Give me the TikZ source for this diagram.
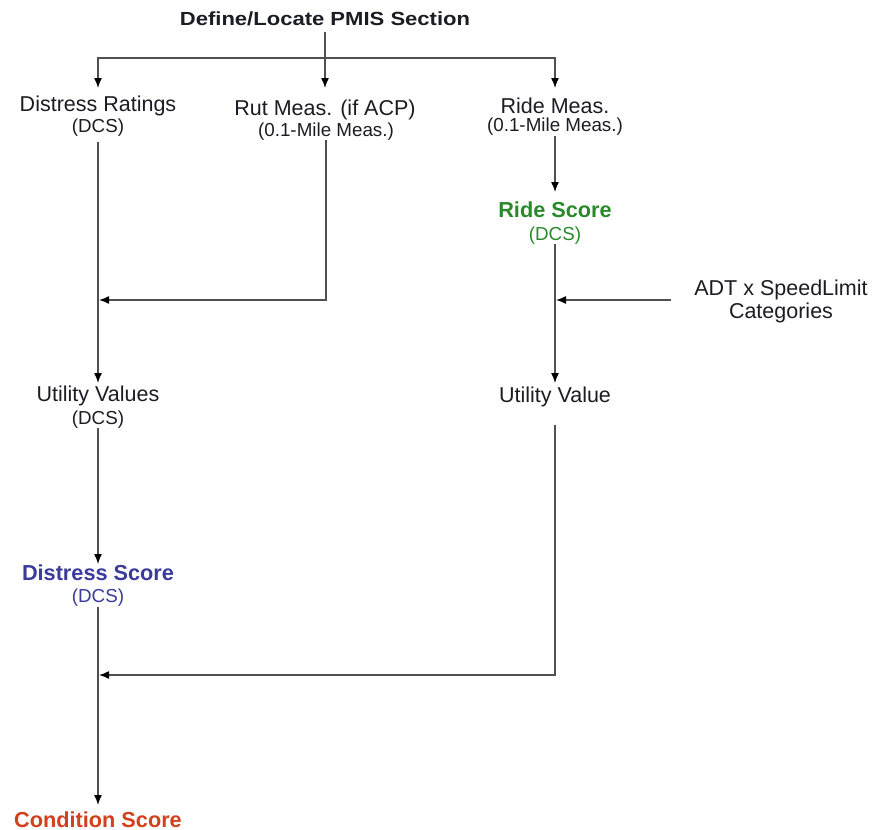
\documentclass[tikz,border=0pt]{standalone}
\usepackage{fontspec}
\setmainfont{Liberation Sans}
\newfontfamily\titlefont[FakeStretch=1.16]{Liberation Sans}
\usetikzlibrary{arrows.meta}
\definecolor{txt}{HTML}{1C1C24}
\definecolor{lncol}{HTML}{505050}
\definecolor{ridegreen}{HTML}{2A8A2A}
\definecolor{distblue}{HTML}{3B3B9B}
\definecolor{condred}{HTML}{D2401E}
\tikzset{
  lbl/.style={anchor=base, inner sep=0pt, text=txt, font=\fontsize{21.5}{24}\selectfont},
  sublbl/.style={anchor=base, inner sep=0pt, text=txt, font=\fontsize{18.8}{22}\selectfont},
  boldlbl/.style={anchor=base, inner sep=0pt, font=\fontsize{21.7}{24}\selectfont\bfseries},
  ln/.style={draw=lncol, line width=1.4pt},
  arr/.style={ln, -{Latex[length=10pt,width=8pt,color=black]}}
}
\begin{document}
\begin{tikzpicture}[x=1pt,y=-1pt]
\useasboundingbox[fill=white] (0,0) rectangle (873,830);
% nodes
\node[anchor=base, inner sep=0pt, text=txt, font=\fontsize{19}{22}\titlefont\bfseries] (title) at (325,25) {Define/Locate PMIS Section};
\node[lbl] (dr) at (98,111) {Distress Ratings};
\node[sublbl] (drs) at (98,132) {(DCS)};
\node[lbl] (rut) at (325,115) {Rut Meas. (if ACP)};
\node[sublbl] (ruts) at (326,136) {(0.1-Mile Meas.)};
\node[lbl] (ride) at (555,113) {Ride Meas.};
\node[sublbl] (rides) at (555,131) {(0.1-Mile Meas.)};
\node[boldlbl, text=ridegreen] (rs) at (555,217) {Ride Score};
\node[sublbl, text=ridegreen] (rss) at (555,240) {(DCS)};
\node[lbl] (adt) at (781,295) {ADT x SpeedLimit};
\node[lbl] (cat) at (781,318) {Categories};
\node[lbl] (uv) at (98,401) {Utility Values};
\node[sublbl] (uvs) at (98,424) {(DCS)};
\node[lbl] (uv2) at (555,402) {Utility Value};
\node[boldlbl, text=distblue] (ds) at (98,580) {Distress Score};
\node[sublbl, text=distblue] (dss) at (98,602) {(DCS)};
\node[boldlbl, text=condred] (cs) at (98,827) {Condition Score};
% junctions
\coordinate (top) at (325,58);
\coordinate (j1) at (99,300);
\coordinate (j2) at (556,300);
\coordinate (j3) at (99,675);
% connectors
\draw[ln] ([yshift=-7pt]title.base) -- (top);
\draw[arr] (top) -| ([yshift=23pt]dr.base);
\draw[arr] (top) -- ([yshift=27pt]rut.base);
\draw[arr] (top) -| ([yshift=25pt]ride.base);
\draw[arr] ([yshift=-10pt]drs.base) -- ([yshift=18pt]uv.base);
\draw[arr] ([yshift=-4pt]ruts.base) |- (j1);
\draw[arr] ([yshift=-5pt]rides.base) -- ([yshift=25pt]rs.base);
\draw[arr] ([yshift=-4pt]rss.base) -- ([yshift=19pt]uv2.base);
\draw[arr] (j2 -| adt.west) ++(-23,0) -- (j2);
\draw[arr] ([yshift=-4pt]uvs.base) -- ([yshift=16pt]ds.base);
\draw[arr] ([yshift=-23pt]uv2.base) |- (j3);
\draw[arr] ([yshift=-5pt]dss.base) -- ([yshift=22pt]cs.base);
\end{tikzpicture}
\end{document}
